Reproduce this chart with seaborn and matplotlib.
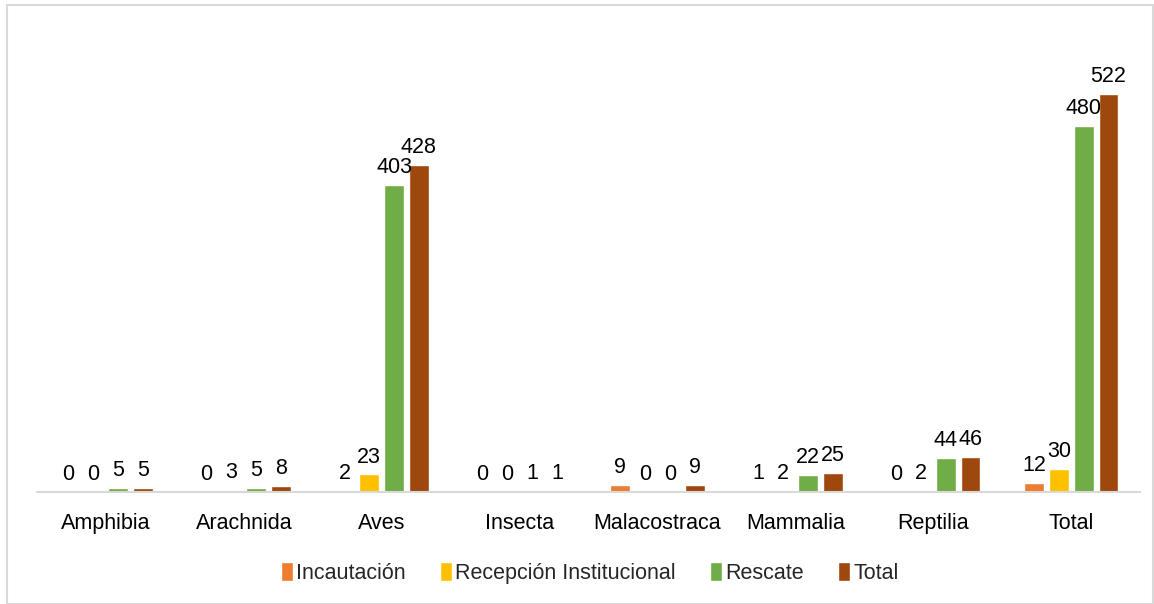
import pandas as pd
import seaborn as sns
import matplotlib.pyplot as plt
from matplotlib.patches import Rectangle

# values
classes = ['Amphibia', 'Arachnida', 'Aves', 'Insecta', 'Malacostraca', 'Mammalia', 'Reptilia', 'Total']
incautacion = [0, 0, 2, 0, 9, 1, 0, 12]
recepcion = [0, 3, 23, 0, 0, 2, 2, 30]
rescate = [5, 5, 403, 1, 0, 22, 44, 480]
total = [5, 8, 428, 1, 9, 25, 46, 522]
series = ['Incautación', 'Recepción Institucional', 'Rescate', 'Total']
colors = ['#ED7D31', '#FFC000', '#70AD47', '#9E480E']

df = pd.DataFrame({
    'Clase': classes * 4,
    'Tipo': [s for s in series for _ in classes],
    'Cantidad': incautacion + recepcion + rescate + total,
})

sns.set_theme(style="white")
plt.rcParams['font.family'] = ['Liberation Sans', 'DejaVu Sans']

fig = plt.figure(figsize=(11.54, 6.04), dpi=100)
ax = fig.add_axes([0.032, 0.1854, 0.956, 0.758])

sns.barplot(data=df, x='Clase', y='Cantidad', hue='Tipo', order=classes,
            hue_order=series, palette=colors, width=0.72, gap=0.2,
            saturation=1, ax=ax)

for c in ax.containers:
    ax.bar_label(c, fmt='%g', padding=5, fontsize=15.5, color='#000000')

ax.set_ylim(0, 600)
ax.set_xlim(-0.5, len(classes) - 0.5)
ax.set_xlabel('')
ax.set_ylabel('')
ax.set_yticks([])
ax.tick_params(axis='x', length=0, pad=15, labelsize=15.5, labelcolor='#000000')
for side in ['top', 'left', 'right']:
    ax.spines[side].set_visible(False)
ax.spines['bottom'].set_color('#d9d9d9')
ax.spines['bottom'].set_linewidth(1.5)

ax.legend(loc='center', ncol=4, frameon=False, fontsize=15.5,
          handlelength=0.55, handleheight=1.0, handletextpad=0.15,
          columnspacing=1.6)
leg = ax.get_legend()
leg.set_bbox_to_anchor((590 / 1154, 1 - 573 / 604), transform=fig.transFigure)

fig.patches.append(Rectangle((7 / 1154, 0), 1 - 7 / 1154 - 0.001, 1 - 5 / 604,
                             transform=fig.transFigure, fill=False,
                             edgecolor='#d9d9d9', linewidth=1.5))

fig.savefig('out.png', dpi=100)
